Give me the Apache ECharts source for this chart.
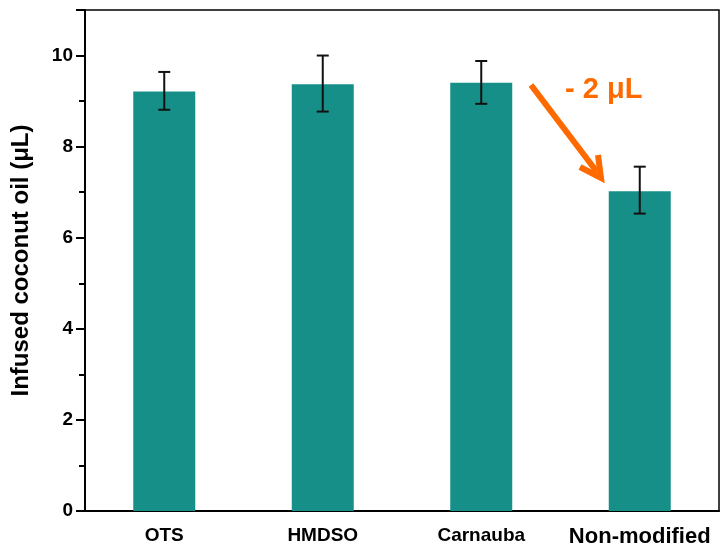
<!DOCTYPE html>
<html>
<head>
<meta charset="utf-8">
<style>
  html, body { margin: 0; padding: 0; background: #fff; }
  #main { width: 724px; height: 550px; }
</style>
<script src="https://cdn.jsdelivr.net/npm/echarts@6/dist/echarts.min.js"></script>
</head>
<body>
<div id="main"></div>
<script>
// data
var categories = ["OTS", "HMDSO", "Carnauba", "Non-modified"];
var oilVolume = [9.21, 9.37, 9.40, 7.02];
var errLow = [8.81, 8.77, 8.94, 6.53];
var errHigh = [9.64, 10.0, 9.88, 7.56];

var barColor = "#178f89";
var fontFam = "'Liberation Sans', Arial, sans-serif";

var myChart = echarts.init(document.getElementById("main"));

// error bar: vertical line plus two caps
function renderErr(params, api) {
  var i = api.value(0);
  var top = api.coord([i, api.value(2)]);
  var bot = api.coord([i, api.value(1)]);
  var half = 6;
  var st = { stroke: "#111", lineWidth: 2 };
  return {
    type: "group",
    children: [
      { type: "line", shape: { x1: top[0], y1: top[1], x2: bot[0], y2: bot[1] }, style: st },
      { type: "line", shape: { x1: top[0] - half, y1: top[1], x2: top[0] + half, y2: top[1] }, style: st },
      { type: "line", shape: { x1: bot[0] - half, y1: bot[1], x2: bot[0] + half, y2: bot[1] }, style: st },
    ],
  };
}

var errData = categories.map(function (c, i) {
  return [i, errLow[i], errHigh[i]];
});

var option = {
  backgroundColor: "#fff",
  animation: false,
  grid: {
    left: 85,
    right: 5,
    top: 10,
    bottom: 39,
    show: true,
    borderColor: "#000",
    borderWidth: 1.5,
    backgroundColor: "transparent",
  },
  xAxis: [
    {
      type: "category",
      data: categories,
      axisLine: { lineStyle: { color: "#000", width: 2 } },
      axisTick: { alignWithLabel: true, length: 8, lineStyle: { color: "#000", width: 2 } },
      axisLabel: {
        interval: 0,
        hideOverlap: false,
        color: "#000",
        fontWeight: "bold",
        fontSize: 19,
        fontFamily: fontFam,
        margin: 15,
        formatter: function (v) {
          return v === "Non-modified" ? "{big|" + v + "}" : v;
        },
        rich: {
          big: { fontSize: 22, fontWeight: "bold", fontFamily: fontFam, color: "#000" },
        },
      },
    },
    {
      // boundary ticks between categories
      type: "category",
      data: categories,
      position: "bottom",
      axisLine: { show: false },
      axisTick: { interval: 0, length: 5, lineStyle: { color: "#000", width: 2 } },
      axisLabel: { show: false },
    },
  ],
  yAxis: {
    type: "value",
    min: 0,
    max: 11,
    interval: 2,
    name: "Infused coconut oil (μL)",
    nameLocation: "middle",
    nameGap: 52,
    nameTextStyle: { color: "#000", fontWeight: "bold", fontSize: 24, fontFamily: fontFam },
    axisLine: { show: true, lineStyle: { color: "#000", width: 2 } },
    axisTick: { show: true, length: 9, lineStyle: { color: "#000", width: 2 } },
    minorTick: { show: true, splitNumber: 2, length: 6, lineStyle: { color: "#000", width: 2 } },
    splitLine: { show: false },
    axisLabel: {
      color: "#000",
      fontWeight: "bold",
      fontSize: 19,
      fontFamily: fontFam,
      margin: 12,
      showMaxLabel: false,
    },
  },
  series: [
    {
      name: "oil",
      type: "bar",
      data: oilVolume,
      barWidth: 62,
      itemStyle: { color: barColor },
    },
    {
      name: "err",
      type: "custom",
      renderItem: renderErr,
      data: errData,
      encode: { x: 0, y: [1, 2] },
      z: 10,
    },
  ],
  graphic: [
    {
      type: "line",
      shape: { x1: 531, y1: 85, x2: 597, y2: 172 },
      style: { stroke: "#ff6a00", lineWidth: 6, lineCap: "butt" },
      z: 100,
    },
    {
      type: "polyline",
      shape: { points: [[580, 167], [601, 178], [598, 155]] },
      style: { stroke: "#ff6a00", fill: null, lineWidth: 6, lineJoin: "miter" },
      z: 100,
    },
    {
      type: "text",
      left: 565,
      top: 75,
      style: {
        text: "- 2 μL",
        fill: "#ff6a00",
        font: "bold 29px " + fontFam,
      },
      z: 100,
    },
  ],
};

option && myChart.setOption(option);
</script>
</body>
</html>
